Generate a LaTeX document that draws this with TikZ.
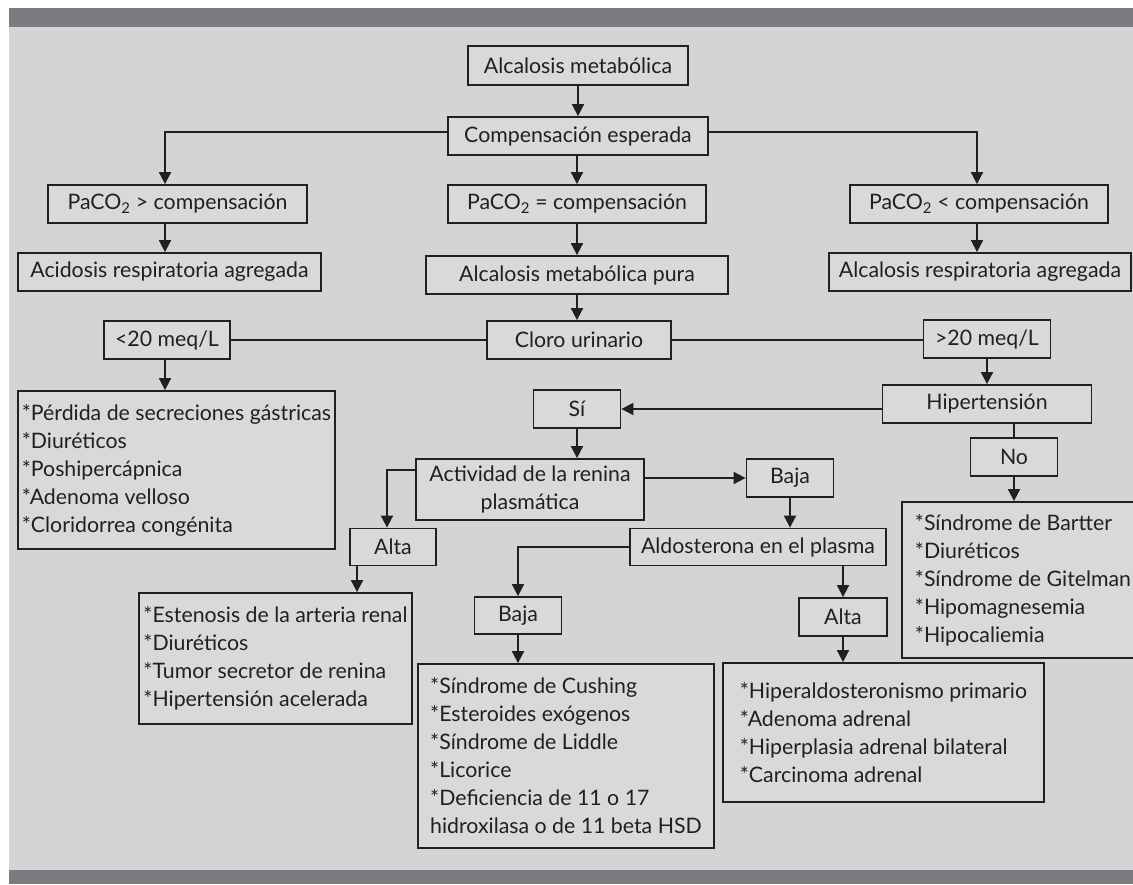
\documentclass[tikz,border=0pt]{standalone}
\usepackage{fontspec}
\setmainfont{Lato}
\usetikzlibrary{arrows.meta}
\definecolor{barc}{RGB}{123,124,128}
\definecolor{bgc}{RGB}{211,212,214}
\definecolor{boxc}{RGB}{216,217,219}
\definecolor{ink}{RGB}{35,31,32}
\begin{document}
\begin{tikzpicture}[x=1pt,y=-1pt,
  box/.style={draw=ink, line width=1.8pt, fill=boxc, text=ink, inner sep=0pt,
    font=\fontsize{21.3}{28}\selectfont},
  lst/.style={box, align=left},
  arr/.style={draw=ink, line width=1.8pt, -{Triangle[length=12pt,width=12pt]}},
  ln/.style={draw=ink, line width=1.8pt}]
\useasboundingbox (0,0) rectangle (1133,884);
\fill[white] (0,0) rectangle (1133,884);
\fill[barc] (9,8) rectangle (1133,27);
\fill[bgc] (9,27) rectangle (1133,870);
\fill[barc] (9,870) rectangle (1133,884);

\coordinate (cL) at (165,0);
\coordinate (cR) at (977,0);
\coordinate (cA) at (387,0);
\coordinate (cB) at (357,0);

\node[box, minimum width=220pt, minimum height=39pt] (am) at (578,65.5) {Alcalosis metabólica};
\node[box, minimum width=260pt, minimum height=38pt] (ce) at (578,136) {Compensación esperada};
\node[box, minimum width=259pt, minimum height=38pt] (pg) at (177.5,204) {PaCO\textsubscript{2} > compensación};
\node[box, minimum width=258pt, minimum height=38pt] (pe) at (577,204) {PaCO\textsubscript{2} = compensación};
\node[box, minimum width=258pt, minimum height=38pt] (pl) at (979,204) {PaCO\textsubscript{2} < compensación};
\node[box, minimum width=303pt, minimum height=38pt] (ar) at (169.5,272) {Acidosis respiratoria agregada};
\node[box, minimum width=302pt, minimum height=38pt] (amp) at (577,275) {Alcalosis metabólica pura};
\node[box, minimum width=302pt, minimum height=38pt] (alr) at (980,272) {Alcalosis respiratoria agregada};
\node[box, minimum width=126pt, minimum height=38pt] (lt) at (167,340) {<20 meq/L};
\node[box, minimum width=184pt, minimum height=38pt] (cu) at (579,340) {Cloro urinario};
\node[box, minimum width=127pt, minimum height=38pt] (gt) at (987,339) {>20 meq/L};
\node[lst, minimum width=317pt, minimum height=158pt] (l1) at (176.5,470)
  {*Pérdida de secreciones gástricas\\*Diuréticos\\*Poshipercápnica\\*Adenoma velloso\\*Cloridorrea congénita};
\node[box, minimum width=209pt, minimum height=38pt] (hip) at (987,404) {Hipertensión};
\node[box, minimum width=87pt, minimum height=38pt] (si) at (577,409) {Sí};
\node[box, minimum width=87pt, minimum height=38pt] (no) at (1014,457) {No};
\node[box, align=center, minimum width=228pt, minimum height=61pt] (act) at (530,489.5)
  {Actividad de la renina\\plasmática};
\node[box, minimum width=87pt, minimum height=38pt] (bj1) at (790,478) {Baja};
\node[box, minimum width=256pt, minimum height=37pt] (ald) at (758,547) {Aldosterona en el plasma};
\node[box, minimum width=86pt, minimum height=37pt] (al1) at (393,547) {Alta};
\node[lst, minimum width=242pt, minimum height=156pt] (bart) at (1023,580)
  {*Síndrome de Bartter\\*Diuréticos\\*Síndrome de Gitelman\\*Hipomagnesemia\\*Hipocaliemia};
\node[lst, minimum width=273pt, minimum height=131pt] (est) at (275.5,658.5)
  {*Estenosis de la arteria renal\\*Diuréticos\\*Tumor secretor de renina\\*Hipertensión acelerada};
\node[box, minimum width=87pt, minimum height=37pt] (bj2) at (518,615.5) {Baja};
\node[box, minimum width=88pt, minimum height=38pt] (al2) at (843,617) {Alta};
\node[lst, minimum width=296pt, minimum height=184pt] (cush) at (566,756)
  {*Síndrome de Cushing\\*Esteroides exógenos\\*Síndrome de Liddle\\*Licorice\\*Deficiencia de 11 o 17\\hidroxilasa o de 11 beta HSD};
\node[lst, minimum width=321pt, minimum height=139pt] (hpa) at (883.5,732.5)
  {*Hiperaldosteronismo primario\\*Adenoma adrenal\\*Hiperplasia adrenal bilateral\\*Carcinoma adrenal};

\draw[arr] (am.south) -- (ce.north);
\draw[arr] ([yshift=4pt]ce.west) -| (pg.north -| cL);
\draw[arr] ([yshift=4pt]ce.east) -| (pl.north -| cR);
\draw[arr] (ce.south -| pe.north) -- (pe.north);
\draw[arr] (pg.south -| cL) -- (ar.north -| cL);
\draw[arr] (pe.south) -- (amp.north);
\draw[arr] (pl.south -| cR) -- (alr.north -| cR);
\draw[arr] (amp.south) -- (amp.south |- cu.north);
\draw[ln] (cu.west) -- (cu.west -| lt.east);
\draw[ln] (cu.east) -- (cu.east -| gt.west);
\draw[arr] (lt.south -| cL) -- (l1.north -| cL);
\draw[arr] (gt.south) -- (hip.north);
\draw[arr] (hip.west |- si.east) -- (si.east);
\draw[ln] (hip.south -| no.north) -- (no.north);
\draw[arr] (no.south) -- (no.south |- bart.north);
\draw[arr] (si.south) -- (si.south |- act.north);
\draw[arr] (act.east |- bj1.west) -- (bj1.west);
\draw[arr] ([yshift=19.5pt]act.west) -| (al1.north -| cA);
\draw[arr] (bj1.south) -- (bj1.south |- ald.north);
\draw[arr] (ald.west) -| (bj2.north);
\draw[arr] (ald.south -| al2.north) -- (al2.north);
\draw[arr] (al1.south -| cB) -- (est.north -| cB);
\draw[arr] (bj2.south) -- (bj2.south |- cush.north);
\draw[arr] (al2.south) -- (al2.south |- hpa.north);
\end{tikzpicture}
\end{document}
